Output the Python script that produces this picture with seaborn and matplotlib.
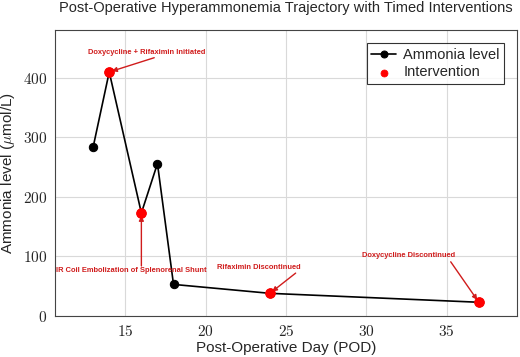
import pandas as pd
import matplotlib.pyplot as plt
import matplotlib.ticker as mticker
import seaborn as sns

# ammonia trajectory
dias = [13, 14, 16, 17, 18, 24, 37]
amonia = [284, 410, 173, 256, 53, 38, 23]

# interventions
dias_int = [14, 16, 24, 37]
amonia_int = [410, 173, 38, 23]
rotulos = ['Doxycycline + Rifaximin Initiated',
           'IR Coil Embolization of Splenorenal Shunt',
           'Rifaximin Discontinued',
           'Doxycycline Discontinued']
pos_texto = [(16.3, 442), (15.4, 76), (23.3, 81), (32.6, 101)]
inicio_seta = [(16.8, 434), (16.0, 84), (25.6, 72), (35.25, 91)]

dados = pd.DataFrame({'Dia': dias, 'Amonia': amonia})
interv = pd.DataFrame({'Dia': dias_int, 'Amonia': amonia_int})

sns.set_style('whitegrid')
plt.rcParams['font.family'] = ['Liberation Sans', 'DejaVu Sans']
plt.rcParams['mathtext.fontset'] = 'cm'

fig, ax = plt.subplots(figsize=(5.2, 3.57), dpi=100)
sns.lineplot(x='Dia', y='Amonia', data=dados, color='black', marker='o',
             markersize=6, markeredgecolor='black', linewidth=1.2,
             label='Ammonia level', ax=ax)
sns.scatterplot(x='Dia', y='Amonia', data=interv, color='red', s=50,
                edgecolor='red', zorder=5, label='Intervention', ax=ax)

vermelho = '#d01c1c'
for (d, a), txt, (tx, ty), (sx, sy) in zip(zip(dias_int, amonia_int), rotulos,
                                          pos_texto, inicio_seta):
    ax.text(tx, ty, txt, ha='center', va='center', color=vermelho,
            fontsize=5.4, fontweight='bold')
    ax.annotate('', xy=(d, a), xytext=(sx, sy),
                arrowprops=dict(arrowstyle='-|>', color=vermelho, lw=1,
                                mutation_scale=7, shrinkA=0, shrinkB=2))

ax.set_xlim(10.6, 39.4)
ax.set_ylim(0, 480)
ax.set_xticks([15, 20, 25, 30, 35])
ax.set_yticks([0, 100, 200, 300, 400])
fmt = mticker.FuncFormatter(lambda v, p: '$%d$' % v)
ax.xaxis.set_major_formatter(fmt)
ax.yaxis.set_major_formatter(fmt)
ax.tick_params(labelsize=11, pad=2)
ax.grid(color='#d9d9d9', linewidth=0.8)
for s in ax.spines.values():
    s.set_color('#444444')
    s.set_linewidth(0.8)

ax.set_title('Post-Operative Hyperammonemia Trajectory with Timed Interventions',
             fontsize=10.5, pad=13)
ax.set_xlabel('Post-Operative Day (POD)', fontsize=11, labelpad=2)
ax.set_ylabel(r'Ammonia level ($\mu$mol/L)', fontsize=11, labelpad=4)

leg = ax.legend(loc='upper right', fontsize=10.5, frameon=True, fancybox=False,
                edgecolor='black', borderpad=0.3, handlelength=1.7,
                handletextpad=0.5, labelspacing=0.25, borderaxespad=0.9)
leg.get_frame().set_linewidth(0.8)
# smaller dots in the legend, like the reference
leg.legend_handles[0].set_markersize(5)
leg.legend_handles[1].set_sizes([25])

plt.subplots_adjust(left=0.105, right=0.995, top=0.915, bottom=0.115)
plt.savefig('out.png', dpi=100)
